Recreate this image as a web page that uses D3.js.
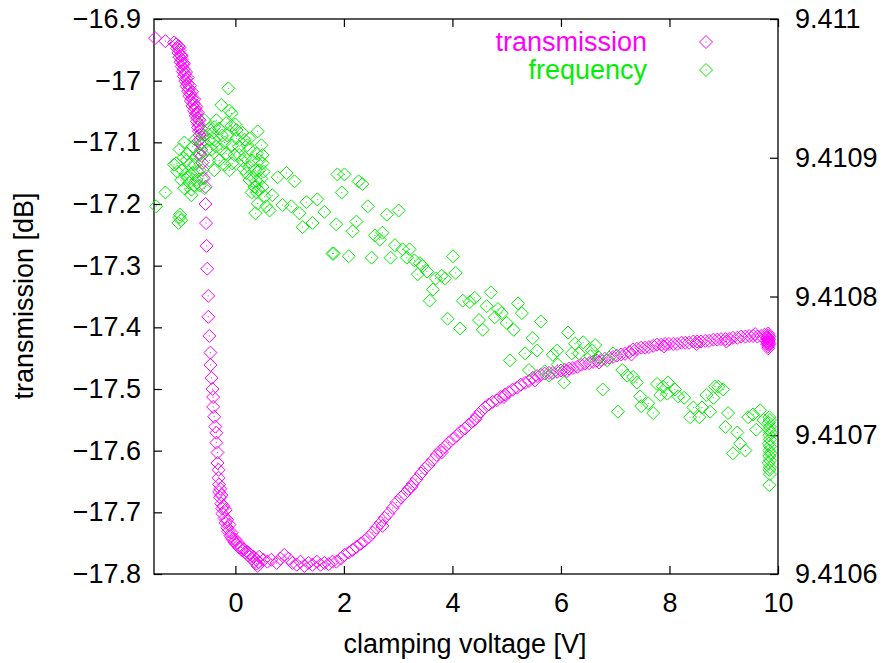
<!DOCTYPE html>
<html>
<head>
<meta charset="utf-8" />
<title>transmission and frequency vs clamping voltage</title>
<style>
html, body {
    margin: 0px;
    padding: 0px;
    background: #fff;
}
svg {
    display: block;
    font-family: "Liberation Sans", Arial, Helvetica, sans-serif;
}
</style>
</head>
<body>
<svg id="chart" width="887" height="663"></svg>

<script src="https://cdn.jsdelivr.net/npm/d3@7"></script>
<script>
// ---- data ----
// transmission: [clamping voltage V, transmission dB]
var transmission = [
  [-1.48,-16.931],[-1.29,-16.936],[-1.13,-16.938],
  [-1.09,-16.941],[-1.05,-16.944],[-1.07,-16.948],[-1.03,-16.951],[-1.05,-16.955],[-1.01,-16.958],
  [-1.03,-16.962],[-0.99,-16.966],[-1.01,-16.970],[-0.97,-16.973],[-0.99,-16.977],[-0.95,-16.981],
  [-0.97,-16.985],[-0.93,-16.989],[-0.95,-16.993],[-0.91,-16.997],[-0.92,-17.001],[-0.88,-17.005],
  [-0.90,-17.009],[-0.86,-17.013],[-0.87,-17.017],[-0.83,-17.021],[-0.85,-17.025],[-0.80,-17.029],
  [-0.82,-17.033],[-0.77,-17.037],[-0.79,-17.041],[-0.74,-17.045],[-0.76,-17.049],[-0.72,-17.053],
  [-0.73,-17.057],[-0.70,-17.061],[-0.71,-17.066],[-0.68,-17.071],[-0.69,-17.076],[-0.67,-17.082],
  [-0.66,-17.088],[-0.65,-17.095],[-0.64,-17.103],[-0.63,-17.112],[-0.62,-17.122],[-0.61,-17.133],
  [-0.60,-17.145],[-0.58,-17.158],
  [-1.03,-16.946],[-0.99,-16.960],[-0.95,-16.972],[-0.91,-16.986],[-0.88,-16.995],[-0.84,-17.008],
  [-0.80,-17.018],[-0.76,-17.030],[-0.72,-17.042],[-0.69,-17.052],[-0.66,-17.064],[-0.63,-17.078],
  [-0.61,-17.092],[-0.68,-17.098],[-0.66,-17.118],
  [-0.55,-17.172],[-0.55,-17.200],[-0.54,-17.231],[-0.53,-17.268],[-0.52,-17.305],[-0.50,-17.349],
  [-0.50,-17.383],[-0.48,-17.414],[-0.46,-17.441],[-0.46,-17.461],[-0.44,-17.482],[-0.42,-17.500],
  [-0.41,-17.513],[-0.41,-17.529],[-0.39,-17.545],[-0.37,-17.561],[-0.35,-17.571],[-0.35,-17.587],
  [-0.33,-17.603],[-0.33,-17.620],
  [-0.31,-17.631],[-0.31,-17.644],[-0.30,-17.655],[-0.28,-17.662],[-0.30,-17.667],[-0.26,-17.672],
  [-0.28,-17.676],[-0.26,-17.686],[-0.22,-17.690],[-0.24,-17.694],[-0.18,-17.696],[-0.24,-17.702],
  [-0.20,-17.710],[-0.15,-17.712],[-0.18,-17.717],[-0.11,-17.720],[-0.15,-17.725],[-0.13,-17.731],
  [-0.07,-17.733],[-0.09,-17.738],[-0.06,-17.743],[0.00,-17.744],[-0.02,-17.748],[0.04,-17.749],
  [0.02,-17.752],[0.07,-17.757],[0.11,-17.757],[0.13,-17.762],[0.16,-17.760],[0.18,-17.765],
  [0.22,-17.764],[0.24,-17.770],[0.27,-17.768],[0.30,-17.775],[0.33,-17.772],[0.35,-17.780],
  [0.38,-17.776],[0.41,-17.787],[0.39,-17.783],[0.43,-17.781],
  [0.44,-17.772],[0.52,-17.777],[0.59,-17.780],[0.66,-17.777],[0.76,-17.782],[0.83,-17.775],
  [0.90,-17.769],[0.98,-17.775],[1.05,-17.782],[1.13,-17.785],[1.20,-17.780],[1.27,-17.787],
  [1.35,-17.782],[1.42,-17.785],[1.50,-17.780],[1.57,-17.785],[1.64,-17.782],[1.72,-17.784],
  [1.79,-17.780],[1.86,-17.780],[1.94,-17.775],[2.01,-17.769],[2.09,-17.765],
  [2.16,-17.761],[2.23,-17.756],[2.31,-17.751],[2.38,-17.746],[2.46,-17.740],[2.53,-17.733],
  [2.60,-17.725],[2.68,-17.717],[2.75,-17.709],[2.82,-17.702],[2.90,-17.693],[2.97,-17.684],
  [3.05,-17.676],[3.12,-17.670],[3.19,-17.662],[3.27,-17.654],[3.34,-17.646],[3.42,-17.637],
  [3.49,-17.629],[3.56,-17.623],[3.64,-17.615],[3.71,-17.607],[3.78,-17.600],[3.86,-17.594],
  [3.93,-17.587],[4.01,-17.581],[4.08,-17.576],[4.15,-17.569],[4.23,-17.564],[4.30,-17.558],
  [4.38,-17.552],[4.45,-17.544],[4.52,-17.537],[4.60,-17.530],[4.67,-17.525],[4.74,-17.521],
  [4.82,-17.518],[4.89,-17.513],[4.97,-17.509],[5.04,-17.505],[5.11,-17.501],[5.19,-17.498],
  [5.26,-17.493],[5.34,-17.490],[5.41,-17.487],[5.48,-17.482],[5.56,-17.479],[5.63,-17.477],
  [5.70,-17.475],[5.78,-17.474],[5.85,-17.474],[5.93,-17.472],[6.00,-17.470],[6.07,-17.469],
  [6.15,-17.467],[6.22,-17.466],[6.30,-17.464],[6.37,-17.461],[6.44,-17.459],[6.52,-17.458],
  [6.59,-17.456],[6.66,-17.454],[6.74,-17.453],[6.81,-17.451],[6.89,-17.449],[6.96,-17.448],
  [7.03,-17.446],[7.11,-17.444],[7.18,-17.443],[7.26,-17.440],[7.33,-17.436],[7.40,-17.435],
  [7.48,-17.433],[7.55,-17.433],[7.62,-17.432],[7.70,-17.430],[7.77,-17.428],[7.85,-17.428],
  [7.92,-17.427],[7.99,-17.427],[8.07,-17.427],[8.14,-17.427],[8.22,-17.425],[8.29,-17.425],
  [8.36,-17.425],[8.44,-17.423],[8.51,-17.423],[8.58,-17.423],[8.66,-17.422],[8.73,-17.422],
  [8.81,-17.420],[8.88,-17.420],[8.95,-17.419],[9.03,-17.419],[9.10,-17.419],[9.17,-17.417],
  [9.25,-17.417],[9.32,-17.415],[9.40,-17.415],[9.47,-17.414],[9.54,-17.414],[9.62,-17.415],
  [9.69,-17.414],
  [2.71,-17.722],[3.24,-17.659],[3.80,-17.603],[4.42,-17.549],[4.95,-17.513],[5.52,-17.486],
  [6.11,-17.471],[6.70,-17.457],[7.30,-17.444],[7.90,-17.431],[8.50,-17.427],[9.05,-17.423],
  [9.58,-17.411],[9.75,-17.412],
  [9.82,-17.410],[9.82,-17.413],[9.81,-17.416],[9.83,-17.419],[9.82,-17.422],[9.81,-17.425],
  [9.83,-17.428],[9.82,-17.431],[9.83,-17.420],[9.81,-17.424],[9.80,-17.418],[9.84,-17.415],
  [9.80,-17.427],[9.84,-17.426],[9.82,-17.434]
];

// frequency: [clamping voltage V, resonance frequency GHz]
var frequency = [
  [-1.46,9.410865],[-1.29,9.410875],[-1.13,9.410895],[-1.03,9.410857],[-1.00,9.410855],
  [-1.05,9.410853],[-1.02,9.410859],[-0.13,9.410950],[-0.26,9.410938],[-0.11,9.410934],
  [-0.07,9.410932],[0.41,9.410919],
  [-0.94,9.410911],[-0.79,9.410908],[-0.61,9.410911],[-0.89,9.410903],[-0.72,9.410901],
  [-1.09,9.410896],[-0.98,9.410891],[-0.79,9.410889],[-1.00,9.410884],[-0.85,9.410882],
  [-0.72,9.410884],[-0.81,9.410877],[-0.61,9.410885],[-0.57,9.410878],[-0.90,9.410898],
  [-0.76,9.410895],[-0.66,9.410902],[-0.52,9.410906],[-0.48,9.410898],[-0.66,9.410891],
  [-0.92,9.410888],[-0.76,9.410880],[-0.48,9.410913],[-0.42,9.410918],
  [-1.03,9.410906],[-0.96,9.410900],[-0.85,9.410895],[-1.07,9.410890],[-0.89,9.410886],
  [-0.70,9.410890],[-0.94,9.410878],[-0.66,9.410880],[-0.81,9.410873],[-0.74,9.410913],
  [-0.57,9.410916],[-0.48,9.410921],[-0.44,9.410906],[-0.39,9.410913],[-0.26,9.410906],
  [-0.15,9.410916],[0.00,9.410924],[0.17,9.410913],[0.07,9.410902],[0.22,9.410909],
  [0.31,9.410898],[0.37,9.410891],[0.48,9.410885],[0.26,9.410884],[0.42,9.410877],
  [0.52,9.410890],[0.15,9.410892],[-0.02,9.410902],[-0.20,9.410895],[-0.39,9.410891],
  [-0.57,9.410927],[-0.35,9.410927],[-0.17,9.410925],[0.02,9.410920],[0.13,9.410918],
  [0.26,9.410914],[-0.30,9.410921],[-0.07,9.410923],[-0.24,9.410916],[-0.39,9.410922],
  [-0.35,9.410908],[-0.30,9.410898],[-0.17,9.410903],[-0.06,9.410909],[0.07,9.410908],
  [-0.06,9.410896],[0.13,9.410898],[-0.20,9.410911],[0.02,9.410914],[-0.11,9.410891],
  [0.26,9.410906],[0.39,9.410903],[0.44,9.410898],[0.26,9.410893],[0.20,9.410889],
  [0.31,9.410886],[0.39,9.410883],[0.44,9.410891],[0.50,9.410896],[0.35,9.410879],
  [0.50,9.410879],[0.18,9.410900],[0.48,9.410909],[0.50,9.410902],[0.30,9.410875],
  [0.37,9.410860],[0.41,9.410867],[0.57,9.410865],[0.39,9.410875],[0.68,9.410873],
  [0.87,9.410866],[1.03,9.410865],[1.18,9.410860],[1.31,9.410868],[1.51,9.410870],
  [1.64,9.410861],[1.24,9.410850],[1.42,9.410853],[1.79,9.410831],[1.88,9.410888],
  [0.78,9.410886],[0.94,9.410889],[1.09,9.410883],[0.54,9.410872],[0.63,9.410862],
  [2.01,9.410888],[2.27,9.410883],[2.34,9.410881],[1.96,9.410875],[2.44,9.410865],
  [2.79,9.410859],[3.01,9.410862],[2.23,9.410854],[2.16,9.410847],[1.86,9.410852],
  [2.57,9.410844],[2.66,9.410841],[2.71,9.410846],[1.81,9.410831],[2.09,9.410829],
  [2.51,9.410828],[2.86,9.410828],[2.94,9.410837],[3.08,9.410834],[3.21,9.410834],
  [3.16,9.410828],[3.30,9.410826],[3.40,9.410824],[3.45,9.410822],[3.36,9.410816],
  [3.53,9.410818],[4.01,9.410829],[4.06,9.410817],[3.69,9.410813],[3.80,9.410815],
  [3.86,9.410813],[3.64,9.410805],[3.58,9.410797],[4.19,9.410797],[4.32,9.410796],
  [4.41,9.410799],[4.71,9.410803],[4.63,9.410793],[4.84,9.410791],[4.91,9.410788],
  [4.78,9.410785],[5.00,9.410781],[5.21,9.410795],[5.28,9.410788],[3.91,9.410784],
  [4.14,9.410777],[4.49,9.410783],[4.56,9.410776],[5.13,9.410776],[5.06,9.410754],
  [5.34,9.410759],
  [5.63,9.410782],[5.48,9.410770],[6.13,9.410774],[5.56,9.410761],[5.41,9.410747],
  [5.70,9.410746],[5.78,9.410743],[6.06,9.410738],[5.94,9.410751],[5.85,9.410758],
  [5.93,9.410761],[6.26,9.410766],[6.41,9.410767],[6.63,9.410765],[6.57,9.410761],
  [6.33,9.410759],[6.20,9.410759],[6.54,9.410757],[6.70,9.410756],[6.85,9.410754],
  [6.96,9.410759],[6.77,9.410733],[7.13,9.410747],[7.22,9.410743],[7.33,9.410742],
  [7.40,9.410738],[7.05,9.410717],[7.48,9.410721],[7.61,9.410723],[7.70,9.410716],
  [7.77,9.410737],[7.88,9.410735],[7.97,9.410738],[8.10,9.410733],[7.83,9.410729],
  [7.96,9.410730],[8.16,9.410728],[8.27,9.410727],[7.46,9.410728],[8.38,9.410713],
  [8.55,9.410713],[8.44,9.410720],[8.60,9.410720],[8.75,9.410717],[8.68,9.410729],
  [8.81,9.410727],[8.90,9.410735],[8.99,9.410733],[8.84,9.410735],[9.08,9.410716],
  [9.03,9.410706],[9.25,9.410702],[9.30,9.410694],[9.17,9.410687],[9.40,9.410689],
  [9.45,9.410713],[9.54,9.410715],[9.67,9.410718],[9.60,9.410704],[9.73,9.410711],
  [9.84,9.410713],[9.85,9.410711],[9.83,9.410709],[9.85,9.410706],[9.84,9.410704],
  [9.86,9.410702],[9.84,9.410700],[9.85,9.410697],[9.83,9.410694],[9.85,9.410692],
  [9.84,9.410689],[9.86,9.410687],[9.84,9.410685],[9.85,9.410682],[9.83,9.410680],
  [9.85,9.410677],[9.84,9.410675],[9.85,9.410672],[9.84,9.410664]
];

var xTicks = [0, 2, 4, 6, 8, 10];
var xTickLabels = ["0", "2", "4", "6", "8", "10"];
var yLeftTicks = [-16.9, -17, -17.1, -17.2, -17.3, -17.4, -17.5, -17.6, -17.7, -17.8];
var yLeftTickLabels = ["\u221216.9", "\u221217", "\u221217.1", "\u221217.2", "\u221217.3",
                       "\u221217.4", "\u221217.5", "\u221217.6", "\u221217.7", "\u221217.8"];
var yRightTicks = [9.411, 9.4109, 9.4108, 9.4107, 9.4106];
var yRightTickLabels = ["9.411", "9.4109", "9.4108", "9.4107", "9.4106"];
var seriesNames = ["transmission", "frequency"];
var seriesColors = ["#ff00ff", "#00ee00"];

!(function(){
    "use strict";

    var L = 154, R = 778, T = 19, B = 574;
    var fontSize = 27;

    var svg = d3.select("#chart");

    var x = d3.scaleLinear().domain([-1.5, 10]).range([L, R]);
    var yL = d3.scaleLinear().domain([-17.8, -16.9]).range([B, T]);
    var yR = d3.scaleLinear().domain([9.4106, 9.411]).range([B, T]);

    function styleAxis(g) {
        g.select(".domain").remove();
        g.selectAll(".tick line").attr("stroke", "#000").attr("stroke-width", 1.2);
        g.selectAll(".tick text").attr("fill", "#000").attr("font-size", fontSize)
            .attr("font-family", null);
    }

    // axes, ticks point inward like gnuplot
    svg.append("g").attr("transform", "translate(0," + B + ")")
        .call(d3.axisBottom(x).tickValues(xTicks).tickSize(-8).tickPadding(19)
            .tickFormat(function(d, i){ return xTickLabels[i]; }))
        .call(styleAxis);

    svg.append("g").attr("transform", "translate(0," + T + ")")
        .call(d3.axisTop(x).tickValues(xTicks).tickSize(-8).tickFormat(""))
        .call(styleAxis);

    svg.append("g").attr("transform", "translate(" + L + ",0)")
        .call(d3.axisLeft(yL).tickValues(yLeftTicks).tickSize(-8).tickPadding(13)
            .tickFormat(function(d, i){ return yLeftTickLabels[i]; }))
        .call(styleAxis);

    svg.append("g").attr("transform", "translate(" + R + ",0)")
        .call(d3.axisRight(yR).tickValues(yRightTicks).tickSize(-8).tickPadding(17)
            .tickFormat(function(d, i){ return yRightTickLabels[i]; }))
        .call(styleAxis);

    // frame
    svg.append("rect")
        .attr("x", L).attr("y", T)
        .attr("width", R - L).attr("height", B - T)
        .attr("fill", "none").attr("stroke", "#000").attr("stroke-width", 1.3);

    // axis titles
    svg.append("text")
        .attr("x", (L + R) / 2 - 1).attr("y", 653)
        .attr("text-anchor", "middle").attr("font-size", fontSize)
        .text("clamping voltage [V]");

    svg.append("text")
        .attr("transform", "translate(33," + 296 + ") rotate(-90)")
        .attr("text-anchor", "middle").attr("font-size", fontSize)
        .text("transmission [dB]");

    var diamond = "M0,-6.5L6.5,0L0,6.5L-6.5,0Z";

    function drawPoints(data, ys, color) {
        var g = svg.append("g");
        var pts = g.selectAll("g.pt")
            .data(data)
            .enter()
            .append("g")
            .attr("class", "pt")
            .attr("transform", function(d){ return "translate(" + x(d[0]) + "," + ys(d[1]) + ")"; });
        pts.append("path")
            .attr("d", diamond)
            .attr("fill", "none")
            .attr("stroke", color)
            .attr("stroke-width", 1);
        pts.append("rect")
            .attr("x", -0.5).attr("y", -0.5)
            .attr("width", 1).attr("height", 1)
            .attr("fill", color);
    }

    drawPoints(transmission, yL, seriesColors[0]);
    drawPoints(frequency, yR, seriesColors[1]);

    // legend
    var legendY = [42, 70];
    seriesNames.forEach(function(name, i) {
        svg.append("text")
            .attr("x", 647).attr("y", legendY[i])
            .attr("dy", "0.35em")
            .attr("text-anchor", "end")
            .attr("font-size", fontSize)
            .attr("fill", seriesColors[i])
            .text(name);
        var lg = svg.append("g").attr("transform", "translate(706," + legendY[i] + ")");
        lg.append("path").attr("d", diamond).attr("fill", "none")
            .attr("stroke", seriesColors[i]).attr("stroke-width", 1);
        lg.append("rect").attr("x", -0.5).attr("y", -0.5).attr("width", 1).attr("height", 1)
            .attr("fill", seriesColors[i]);
    });

}());
</script>
</body>
</html>
